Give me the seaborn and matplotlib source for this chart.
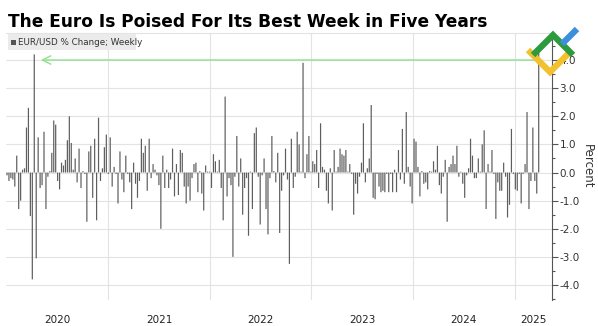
import numpy as np
import pandas as pd
import matplotlib
matplotlib.use("Agg")
import matplotlib.pyplot as plt
import seaborn as sns
from matplotlib.ticker import MultipleLocator, FormatStrFormatter
from matplotlib.lines import Line2D
from matplotlib.patches import Rectangle
import matplotlib.transforms as mtransforms

# ---------------- data (weekly EUR/USD % change) -------------
seg_a = [-0.1, -0.3, -0.2, -0.25, -0.5, 0.6, -1.3, -1.0, 0.1, 0.15, 1.6, 2.3, -1.55,
         -3.8, 4.2, -3.05, 1.25, -0.55, -0.45, 1.45, -1.3, -0.15, 0.05, 0.7, 1.85, 1.7,
         -0.3, -0.6, 0.35, 0.25, 0.45, 1.15, 2.0, 1.05, 0.1, 0.5, -0.35, 0.85, -0.55,
         0.05, -0.05, -1.75, 0.75, 0.95, -0.9, 1.2, -1.7]
seg_b = [1.95, -0.3, 0.15, 0.9, 1.35, -0.05, 1.25, -0.5, 0.2, -0.05, -1.1, 0.75, -0.25,
         -0.7, 0.6, -0.05, -0.35, -1.3, 0.35, -0.4, -0.9, -0.3, 1.2, 0.7, 0.95, -0.65,
         1.2, -0.2, 0.3, 0.1, -0.1, -0.45, -2.0, 0.6, -0.55, 0.1, -0.55, -0.25, 0.85,
         -0.85, 0.3, -0.8, 0.8, 0.7, -0.5, -1.1]
seg_c = [-0.5, -1.0, -0.2, 0.3, 0.35, -0.7, 0.05, -0.75, -1.35, 0.25, 0.03, 0.03, -0.55,
         0.65, 0.4, 0.03, 0.45, -0.55, -1.7, 2.7, -0.85, -0.2, -0.45, -3.0, -0.15, 1.3,
         -0.5, 0.5, -1.5, -0.55, -0.2, -2.25, 0.03, -1.3, 1.4, 1.6, -0.15, -1.85, -0.1,
         0.5, -1.3, -2.2, -0.2, 1.3, 0.05]
seg_d = [-0.35, 0.7, -2.15, -0.65, -0.1, 0.85, -0.25, -3.25, 1.2, -0.55, -0.15, 1.45,
         1.0, 0.03, 3.9, -0.2, 0.65, 1.3, 0.03, 0.4, 0.3, 0.8, -0.55, 1.75, 0.2, 0.1,
         -0.65, -1.1, 0.15, -1.35, 0.8, 0.03, 0.2, 0.85, 0.65, 0.6, 0.8, 0.03, 0.3, -0.05,
         -1.5, -0.4, -0.75, -0.15, 0.35, 1.75]
seg_e = [-0.35, 0.15, 0.5, 2.4, -0.9, -0.95, -0.05, -0.5, -0.7, -0.65, -0.7, -0.05, -0.7,
         -0.05, -0.7, 0.1, -0.7, 0.8, -0.25, 1.55, -0.4, 2.15, 0.2, -0.5, -1.1, 1.2, 1.1,
         0.2, -0.85, 0.05, -0.4, -0.35, -0.6, 0.05, 0.03, 0.4, 0.1, 0.95, -0.45, -0.75,
         -0.15, 0.45, -1.75, 0.2, 0.3]
seg_f = [0.6, 0.3, 0.95, -0.15, 0.03, -0.4, -0.9, -0.1, 0.15, 1.2, 0.6, -0.2, -0.2, 0.5,
         0.03, 1.0, 1.5, -1.3, 0.3, 0.03, 0.8, -0.05, -1.65, -0.35, -0.65, -0.65, 0.35,
         -0.15, -1.6, -1.15, 1.55, -0.05, -0.6, -0.65, -0.05, -1.1, -0.05, 0.3, 2.15,
         -1.3, -0.3, 1.6, -0.3, -0.75, 4.3]

start_date = "2020-01-03"
year_labels = [2020, 2021, 2022, 2023, 2024, 2025]
y_ticks = [-4, -3, -2, -1, 0, 1, 2, 3, 4]
title = "The Euro Is Poised For Its Best Week in Five Years"
legend_label = "EUR/USD % Change; Weekly"
y_label = "Percent"

values = seg_a + seg_b + seg_c + seg_d + seg_e + seg_f
N = len(values)
dates = pd.date_range(start_date, periods=N, freq="7D")
df = pd.DataFrame({"pos": np.arange(N), "pct": values})

# ---------------- figure ----------------
sns.set_theme(style="white")
plt.rcParams["font.family"] = ["DejaVu Sans"]

W, H = 598, 326
fig = plt.figure(figsize=(W / 100, H / 100), dpi=100)
fig.patch.set_facecolor("white")

ax_l, ax_r, ax_t, ax_b = 6, 552, 33, 300
ax = fig.add_axes([ax_l / W, 1 - ax_b / H, (ax_r - ax_l) / W, (ax_b - ax_t) / H])
ax.set_facecolor("white")

sns.barplot(data=df, x="pos", y="pct", native_scale=True, color="#5e5e5e",
            saturation=1, width=0.62, errorbar=None, linewidth=0, ax=ax, zorder=3)
for p in ax.patches:
    p.set_snap(False)

# x scale: first bar at px 7, last bar at px 538.7
step = (538.7 - 7) / (N - 1)
x0 = -(7 - ax_l) / step
x1 = (N - 1) + (ax_r - 538.7) / step
ax.set_xlim(x0, x1)
ax.set_ylim(-4 - (ax_b - 285) / 28.1, 4 + (60 - ax_t) / 28.1)

# year boundaries
def pos_of(ts):
    return (pd.Timestamp(ts) - dates[0]).days / 7.0

bounds = [pos_of(f"{y}-01-01") for y in year_labels] + [x1]
for b in bounds[1:-1]:
    ax.axvline(b, color="#e3e3e3", lw=0.8, zorder=1)
trans = mtransforms.blended_transform_factory(ax.transData, ax.transAxes)
for i, y in enumerate(year_labels):
    lo = max(bounds[i], x0)
    hi = min(bounds[i + 1], x1)
    ax.text((lo + hi) / 2, -(320 - ax_b) / (ax_b - ax_t), str(y), transform=trans,
            ha="center", va="center", fontsize=7.5, color="#222222")

ax.set_xticks([])
ax.set_xlabel("")

# y axis on right
ax.yaxis.tick_right()
ax.yaxis.set_label_position("right")
ax.set_yticks(y_ticks)
ax.yaxis.set_major_formatter(FormatStrFormatter("%.1f"))
ax.yaxis.set_minor_locator(MultipleLocator(0.5))
ax.tick_params(axis="y", which="major", length=4, width=0.8, color="#555555",
               labelsize=7.5, labelcolor="#333333", pad=1.5)
ax.tick_params(axis="y", which="minor", length=2, width=0.8, color="#555555")
ax.set_ylabel(y_label, rotation=-90, fontsize=8.5, color="#333333", labelpad=10)
ax.grid(axis="y", which="major", color="#e3e3e3", lw=0.8, zorder=0)
ax.grid(axis="x", visible=False)

for s in ["left", "bottom"]:
    ax.spines[s].set_visible(False)
ax.spines["top"].set_color("#e3e3e3")
ax.spines["top"].set_linewidth(0.8)
ax.spines["right"].set_color("#555555")
ax.spines["right"].set_linewidth(0.8)

# arrow from latest week back to previous record
vals = np.array(values)
i_prev = int(np.argmax(vals[:-1]))
ax.annotate("", xy=(i_prev + 2, 4.0), xytext=(N - 1, 4.0),
            arrowprops=dict(arrowstyle="->,head_length=0.5,head_width=0.25",
                            color="#8fe08f", lw=1.0), zorder=4)

# title (fit width)
t = fig.text(8 / W, 1 - 27 / H, title, fontsize=13, fontweight="bold",
             color="black", va="baseline", ha="left")
fig.canvas.draw()
w = t.get_window_extent().width
t.set_fontsize(13 * 476 / w)

# legend box
fig.patches.append(Rectangle((8 / W, 1 - 50 / H), 128 / W, 16 / H,
                             transform=fig.transFigure, facecolor="#ebebeb",
                             edgecolor="none", zorder=5))
fig.patches.append(Rectangle((11 / W, 1 - 45 / H), 5 / W, 5 / H,
                             transform=fig.transFigure, facecolor="#555555",
                             edgecolor="none", zorder=6))
fig.text(18 / W, 1 - 42.5 / H, legend_label, fontsize=6.3, color="#333333",
         va="center", ha="left", zorder=7)

# logo watermark (approximate)
def fl(xs, ys, c):
    fig.lines.append(Line2D([x / W for x in xs], [1 - y / H for y in ys],
                            transform=fig.transFigure, color=c, lw=4.5,
                            solid_capstyle="butt", solid_joinstyle="miter", zorder=8))
fl([528, 550, 570], [50, 72, 52], "#f2c12e")
fl([533, 553, 573], [55, 35, 55], "#2e9a3e")
fl([562, 577], [44, 29], "#3d8fdc")

fig.savefig("out.png", dpi=100, facecolor="white")
